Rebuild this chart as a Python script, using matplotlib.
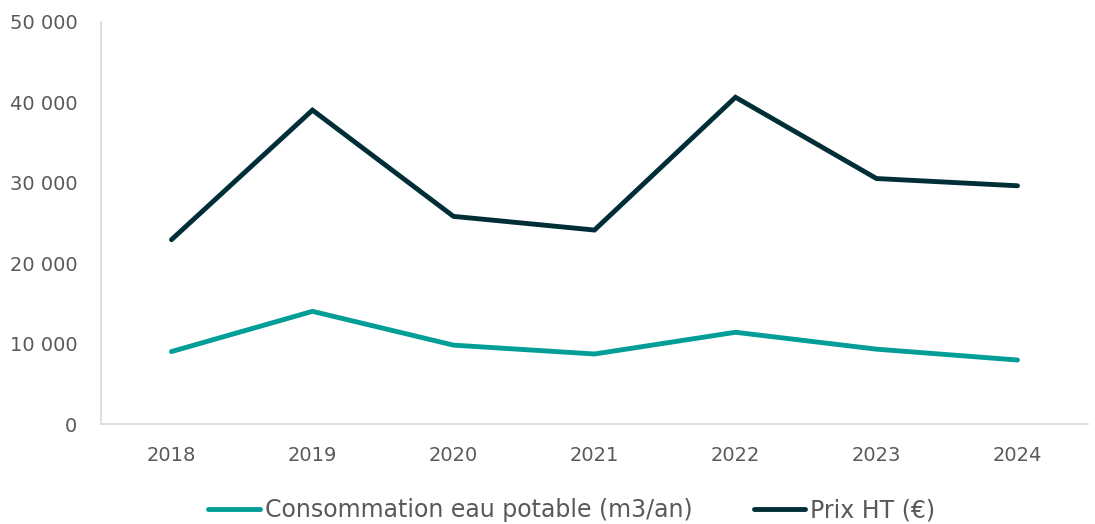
import matplotlib
matplotlib.use("Agg")
import matplotlib.pyplot as plt
from matplotlib.ticker import FuncFormatter, MultipleLocator
from matplotlib import font_manager

years = ["2018", "2019", "2020", "2021", "2022", "2023", "2024"]
conso = [9000, 14000, 9800, 8700, 11400, 9300, 7950]
prix = [22900, 39000, 25800, 24100, 40600, 30500, 29600]

label_conso = "Consommation eau potable (m3/an)"
label_prix = "Prix HT (€)"

teal = "#009E97"
dark = "#002E36"
grey = "#595959"

names = {f.name for f in font_manager.fontManager.ttflist}
narrow = "DejaVu Sans"
leg_size = 17
for cand in ["Liberation Sans Narrow", "DejaVu Sans Condensed"]:
    if cand in names:
        narrow = cand
        leg_size = 18
        break

fig = plt.figure(figsize=(10.95, 5.24), dpi=100)
ax = fig.add_axes([0.0922, 0.1908, 0.9014, 0.768])

x = list(range(len(years)))
ax.plot(x, conso, color=teal, lw=3.5, solid_capstyle="round", solid_joinstyle="miter", label=label_conso)
ax.plot(x, prix, color=dark, lw=3.5, solid_capstyle="round", solid_joinstyle="miter", label=label_prix)

ax.set_xlim(-0.5, len(years) - 0.5)
ax.set_ylim(0, 50000)
ax.yaxis.set_major_locator(MultipleLocator(10000))
ax.yaxis.set_major_formatter(FuncFormatter(lambda v, p: f"{int(v):,}".replace(",", " ")))
ax.set_xticks(x)
ax.set_xticklabels(years)

for s in ["top", "right"]:
    ax.spines[s].set_visible(False)
for s in ["left", "bottom"]:
    ax.spines[s].set_color("#D9D9D9")
    ax.spines[s].set_linewidth(1.2)

ax.tick_params(length=0, labelsize=14, labelcolor=grey, labelfontfamily="DejaVu Sans")
ax.tick_params(axis="y", pad=17)
ax.tick_params(axis="x", pad=16)

leg = fig.legend(loc="center", bbox_to_anchor=(0.522, 0.026), ncol=2, frameon=False,
                 prop={"family": narrow, "size": leg_size}, handlelength=2.2, handletextpad=0.2,
                 columnspacing=2.6)
for t in leg.get_texts():
    t.set_color(grey)
for h in leg.get_lines():
    h.set_linewidth(3.5)
    h.set_solid_capstyle("round")

fig.savefig("out.png", dpi=100)
